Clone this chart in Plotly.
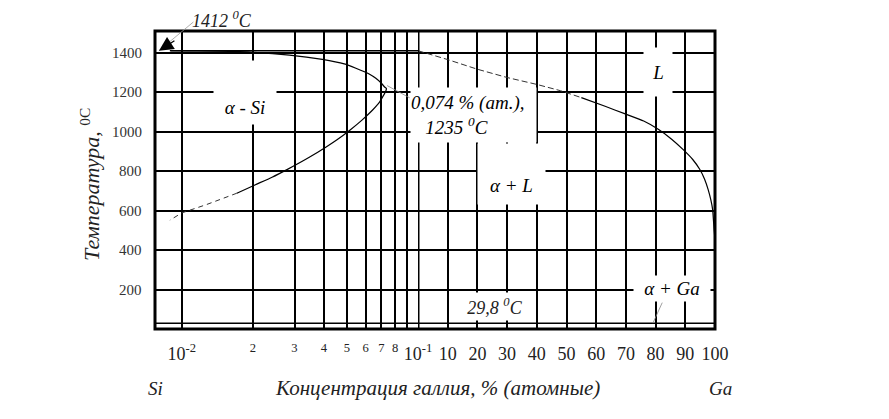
import numpy as np
import plotly.graph_objects as go

# ---------------- data ----------------
# solidus (retrograde solubility of Ga in Si), log axis, % (at.)
SOLIDUS_C = [0.0090, 0.01081, 0.01756, 0.02856, 0.03935, 0.04873, 0.05459, 0.06212, 0.06630,
             0.06983, 0.07223, 0.07351, 0.07294, 0.0718, 0.0686, 0.0641, 0.0579, 0.0516,
             0.0454, 0.0410, 0.0345, 0.0280, 0.0241, 0.0204, 0.0171]
SOLIDUS_T = [1412, 1411, 1407, 1390, 1368, 1345, 1323, 1294, 1272,
             1248, 1228, 1220, 1205, 1190, 1150, 1110, 1060, 1010,
             960, 925, 870, 810, 770, 731, 689]
SOLIDUS_EXT_C = [0.0171, 0.0127, 0.0100, 0.0089]
SOLIDUS_EXT_T = [689, 631, 589, 552]

# liquidus, linear axis, % (at.)
LIQ_DASH_C = [0, 10, 20, 30, 40, 48, 55]
LIQ_DASH_T = [1412, 1367, 1318, 1276, 1241, 1209, 1174]
LIQ_C = [55, 63, 70, 76, 80.9, 85.4, 89.3, 92.5, 94.9, 96.5, 97.7, 98.6, 99.2, 99.7, 99.9, 100, 100]
LIQ_T = [1174, 1130, 1090, 1055, 1013, 963, 910, 860, 809, 760, 707, 655, 607, 504, 470, 400, 200]

SI_MELT_T = 1412
EUTECTIC_T = 29.8
MAX_SOL_C = 0.074
MAX_SOL_T = 1235

Y_TICKS = [200, 400, 600, 800, 1000, 1200, 1400]
Y_LABELS = ["200", "400", "600", "800", "1000", "1200", "1400"]
X_LOG_TICKS = [0.01, 0.02, 0.03, 0.04, 0.05, 0.06, 0.07, 0.08, 0.09, 0.1]
X_LOG_LABELS = ["10<sup>-2</sup>", "2", "3", "4", "5", "6", "7", "8", "", "10<sup>-1</sup>"]
X_LIN_TICKS = [10, 20, 30, 40, 50, 60, 70, 80, 90, 100]
X_LIN_LABELS = ["10", "20", "30", "40", "50", "60", "70", "80", "90", "100"]

X_LOG_MIN = 0.0077
Y_MAX = 1512

SERIF = "Liberation Serif, Times New Roman, serif"
SPLIT = 263 / 560
# plot area in page pixels (used only to place text labels)
PL, PT, PW, PH = 155, 31, 560, 298


def small(t):
    return t if (t.startswith("10") or t == "") else "<sup>" + t + "</sup>"


def px(x):
    return (x - PL) / PW


def py(y):
    return 1 - (y - PT) / PH


fig = go.Figure()

# Si melting line (log part)
fig.add_trace(go.Scatter(x=[0.0089, 0.1], y=[SI_MELT_T, SI_MELT_T], mode="lines",
                         line=dict(color="black", width=1.4), xaxis="x", yaxis="y"))
# eutectic line
fig.add_trace(go.Scatter(x=[X_LOG_MIN, 0.1], y=[EUTECTIC_T, EUTECTIC_T], mode="lines",
                         line=dict(color="black", width=1.5), xaxis="x", yaxis="y"))
fig.add_trace(go.Scatter(x=[0, 100], y=[EUTECTIC_T, EUTECTIC_T], mode="lines",
                         line=dict(color="black", width=1.5), xaxis="x2", yaxis="y"))
# solidus
fig.add_trace(go.Scatter(x=SOLIDUS_C, y=SOLIDUS_T, mode="lines",
                         line=dict(color="black", width=1.2, shape="spline", smoothing=0.6),
                         xaxis="x", yaxis="y"))
fig.add_trace(go.Scatter(x=SOLIDUS_EXT_C, y=SOLIDUS_EXT_T, mode="lines",
                         line=dict(color="#333", width=1, dash="5px,4px"), xaxis="x", yaxis="y"))
# liquidus
fig.add_trace(go.Scatter(x=LIQ_DASH_C, y=LIQ_DASH_T, mode="lines",
                         line=dict(color="#333", width=1, dash="6px,3px"), xaxis="x2", yaxis="y"))
fig.add_trace(go.Scatter(x=LIQ_C, y=LIQ_T, mode="lines",
                         line=dict(color="black", width=1.2, shape="spline", smoothing=0.5),
                         xaxis="x2", yaxis="y"))

grid = dict(showgrid=True, gridcolor="black", gridwidth=1.5, zeroline=False, showline=False)

# page has an 8px body margin: shrink figure so the plot area lands where the reference has it
fig.update_layout(
    width=881, height=411,
    margin=dict(l=PL - 8, r=174, t=PT - 8, b=90),
    paper_bgcolor="white", plot_bgcolor="white",
    showlegend=False,
    xaxis=dict(type="log", domain=[0, SPLIT], range=[np.log10(X_LOG_MIN), -1],
               tickmode="array", tickvals=X_LOG_TICKS, ticktext=[small(t) for t in X_LOG_LABELS],
               ticks="", ticklabelstandoff=12,
               tickfont=dict(family=SERIF, size=18, color="#222"), **grid),
    xaxis2=dict(domain=[SPLIT, 1], range=[0, 100], anchor="y",
                tickmode="array", tickvals=X_LIN_TICKS, ticktext=X_LIN_LABELS,
                ticks="", ticklabelstandoff=12,
                tickfont=dict(family=SERIF, size=18, color="#222"), **grid),
    yaxis=dict(range=[0, Y_MAX], tickmode="array", tickvals=Y_TICKS, ticks="",
               showticklabels=False, **grid),
)

# y tick labels (placed explicitly so the gap to the frame matches)
for v, t in zip(Y_TICKS, Y_LABELS):
    fig.add_annotation(x=px(144), y=v, xref="paper", yref="y", text=t, showarrow=False,
                       xanchor="right", yanchor="middle",
                       font=dict(family=SERIF, size=15, color="#333"))

# frame and the 10^-1 boundary
fig.add_shape(type="rect", xref="paper", yref="paper", x0=0, x1=1, y0=0, y1=1,
              line=dict(color="black", width=3), layer="above")
fig.add_shape(type="line", xref="x2", yref="paper", x0=0, x1=0, y0=0, y1=1,
              line=dict(color="black", width=3), layer="above")

lab = dict(family=SERIF, size=19, color="black")

# leader lines
fig.add_annotation(x=np.log10(MAX_SOL_C), y=MAX_SOL_T, xref="x", yref="y", text="",
                   showarrow=True, arrowhead=0, ax=24, ay=13, arrowcolor="#888", arrowwidth=0.8)
fig.add_annotation(x=79.1, y=EUTECTIC_T, xref="x2", yref="y", text="",
                   showarrow=True, arrowhead=0, ax=10, ay=-22, arrowcolor="#888", arrowwidth=0.8)
fig.add_annotation(x=np.log10(0.0080), y=SI_MELT_T, xref="x", yref="y", text="",
                   showarrow=True, arrowhead=0, ax=36, ay=-30, arrowcolor="#999", arrowwidth=0.8)
fig.add_annotation(x=np.log10(0.0080), y=SI_MELT_T, xref="x", yref="y", text="",
                   showarrow=True, arrowhead=2, arrowsize=2.2, ax=17, ay=-11,
                   arrowcolor="black", arrowwidth=1.3)

# region labels with white boxes
fig.add_annotation(x=np.log10(0.0186), y=1200, xref="x", yref="y", text="<i>α - Si</i>",
                   showarrow=False, bgcolor="white", width=50, height=51, valign="bottom",
                   font=lab, borderpad=6)
fig.add_annotation(x=18.7, y=1086, xref="x2", yref="y",
                   text="<i>0,074 % (am.),</i><br><i>&nbsp;&nbsp;&nbsp;1235 <sup>0</sup>C</i>",
                   showarrow=False, bgcolor="white", width=125, height=54, align="left",
                   font=lab, borderpad=0)
fig.add_annotation(x=80.8, y=1304, xref="x2", yref="y", text="<i>L</i>",
                   showarrow=False, bgcolor="white", width=28, height=48, font=lab, borderpad=0)
fig.add_annotation(x=31.6, y=786, xref="x2", yref="y", text="<i>α + L</i>",
                   showarrow=False, bgcolor="white", width=51, height=44, valign="bottom",
                   font=lab, borderpad=8)
fig.add_annotation(x=85.5, y=208, xref="x2", yref="y", text="<i>α + Ga</i>",
                   showarrow=False, bgcolor="white", width=76, height=25, font=lab, borderpad=0)
fig.add_annotation(x=25.9, y=112, xref="x2", yref="y", text="<i>29,8 <sup>0</sup>C</i>",
                   showarrow=False, bgcolor="white", width=60, height=27,
                   font=dict(family=SERIF, size=18, color="#222"), borderpad=0)

txt = dict(showarrow=False, xref="paper", yref="paper", xanchor="center", yanchor="middle")

# 1412 label
fig.add_annotation(x=px(222), y=py(19), text="<i>1412 <sup>0</sup>C</i>",
                   font=dict(family=SERIF, size=18, color="#222"), **txt)

# axis titles
fig.add_annotation(x=px(90), y=py(185), text="<i>Температура,</i> <sup>0C</sup>", textangle=-90,
                   font=dict(family=SERIF, size=22, color="#222"), **txt)
fig.add_annotation(x=px(437), y=py(388), text="<i>Концентрация галлия, % (атомные)</i>",
                   font=dict(family=SERIF, size=21, color="#222"), **txt)
fig.add_annotation(x=px(155), y=py(388), text="<i>Si</i>",
                   font=dict(family=SERIF, size=19, color="#222"), **txt)
fig.add_annotation(x=px(720), y=py(388), text="<i>Ga</i>",
                   font=dict(family=SERIF, size=19, color="#222"), **txt)

fig.write_html("out.html")
